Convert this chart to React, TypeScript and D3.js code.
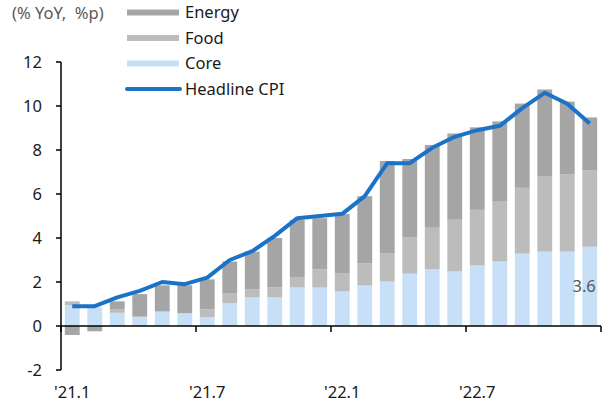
import React from 'react';
import * as d3 from 'd3';

const categories = ["'21.1","'21.2","'21.3","'21.4","'21.5","'21.6","'21.7","'21.8","'21.9","'21.10","'21.11","'21.12","'22.1","'22.2","'22.3","'22.4","'22.5","'22.6","'22.7","'22.8","'22.9","'22.10","'22.11","'22.12"];
const tickLabels = ["'21.1", "'21.7", "'22.1", "'22.7"];
const core = [0.95,0.85,0.6,0.4,0.66,0.58,0.4,1.04,1.3,1.3,1.75,1.75,1.57,1.84,2.02,2.38,2.57,2.48,2.75,2.93,3.29,3.38,3.38,3.6];
const food = [0.17,0,0.17,0.05,0,0,0.36,0.46,0.36,0.45,0.45,0.82,0.81,1.0,1.27,1.64,1.9,2.35,2.53,2.72,2.99,3.41,3.52,3.48];
const energy = [-0.41,-0.24,0.35,1.0,1.19,1.27,1.36,1.43,1.72,2.25,2.62,2.33,2.71,3.06,4.21,3.57,3.76,3.92,3.75,3.65,3.83,3.96,3.3,2.4];
const headline = [0.9,0.9,1.3,1.6,2.0,1.9,2.2,3.0,3.4,4.1,4.9,5.0,5.1,5.9,7.4,7.4,8.1,8.6,8.9,9.1,9.9,10.6,10.1,9.2];
const yTicks = [-2,0,2,4,6,8,10,12];
const seriesNames = ['Energy','Food','Core','Headline CPI'];

const COLORS: Record<string,string> = { core: '#c7e0f7', food: '#bcbcbc', energy: '#a5a5a5' };
const LINE = '#1a73c8';
const FONT = "'Noto Sans', 'DejaVu Sans', sans-serif";
const TEXT = '#1a1a1a';

export default function App() {
  const rows = categories.map((c, i) => ({ cat: c, core: core[i], food: food[i], energy: energy[i] }));
  const x = d3.scaleBand<string>().domain(categories).range([61, 601]).paddingInner(0.34).paddingOuter(0.17);
  const y = d3.scaleLinear().domain([-2, 12]).range([370, 62]);
  const stack = d3.stack<any>().keys(['core','food','energy']).offset(d3.stackOffsetDiverging);
  const layers = stack(rows);
  const cx = (c: string) => (x(c) as number) + x.bandwidth() / 2;
  const line = d3.line<number>().x((_, i) => cx(categories[i])).y(d => y(d));
  const step = x.step();
  const x0 = 61, x1 = 601;
  const boundaryTicks = [0, 6, 12, 18, 24].map(k => x0 + k * step);
  const lastCat = categories[categories.length - 1];

  const legendItems = [
    { name: seriesNames[0], color: COLORS.energy, type: 'bar' },
    { name: seriesNames[1], color: COLORS.food, type: 'bar' },
    { name: seriesNames[2], color: COLORS.core, type: 'bar' },
    { name: seriesNames[3], color: LINE, type: 'line' },
  ];

  return (
    <svg width={606} height={405} style={{ position: 'absolute', left: 0, top: 0, background: '#fff' }} fontFamily={FONT}>
      {layers.map(layer => (
        <g key={layer.key} fill={COLORS[layer.key]}>
          {layer.map((d, i) => (
            <rect key={i} x={x(categories[i])} width={x.bandwidth()}
              y={y(Math.max(d[0], d[1]))} height={Math.abs(y(d[0]) - y(d[1]))} />
          ))}
        </g>
      ))}
      <line x1={x0} x2={x0} y1={y(12)} y2={y(-2)} stroke="#000" strokeWidth={1.5} />
      {yTicks.map(t => (
        <g key={t}>
          <line x1={x0 - 5} x2={x0} y1={y(t)} y2={y(t)} stroke="#000" strokeWidth={1.5} />
          <text x={42} y={y(t)} dy="0.36em" textAnchor="end" fontSize={16.5} fill={TEXT}>{t}</text>
        </g>
      ))}
      <line x1={x0} x2={x1} y1={y(0)} y2={y(0)} stroke="#000" strokeWidth={1.5} />
      {boundaryTicks.map((bx, i) => (
        <line key={i} x1={bx} x2={bx} y1={y(0)} y2={y(0) + 6} stroke="#000" strokeWidth={1.5} />
      ))}
      {tickLabels.map(l => (
        <text key={l} x={cx(l)} y={398} textAnchor="middle" fontSize={16.5} fill={TEXT}>{l}</text>
      ))}
      <path d={line(headline) || ''} fill="none" stroke={LINE} strokeWidth={4} strokeLinejoin="round" />
      <text x={cx(lastCat) + 6} y={y(core[core.length - 1] / 2)} dy="0.36em" textAnchor="end" fontSize={16.5} fill="#595959">{core[core.length - 1].toFixed(1)}</text>
      <text x={12} y={13} dy="0.36em" fontSize={16.5} fill="#595959" style={{ whiteSpace: 'pre' }}>{'(% YoY,  %p)'}</text>
      {legendItems.map((it, i) => {
        const ly = 12.5 + i * 25.5;
        return (
          <g key={it.name}>
            {it.type === 'bar'
              ? <rect x={127} y={ly - 3} width={52} height={6} fill={it.color} />
              : <line x1={127} x2={180} y1={ly} y2={ly} stroke={it.color} strokeWidth={4} strokeLinecap="round" />}
            <text x={185} y={ly} dy="0.36em" fontSize={16.5} fill={TEXT}>{it.name}</text>
          </g>
        );
      })}
    </svg>
  );
}
